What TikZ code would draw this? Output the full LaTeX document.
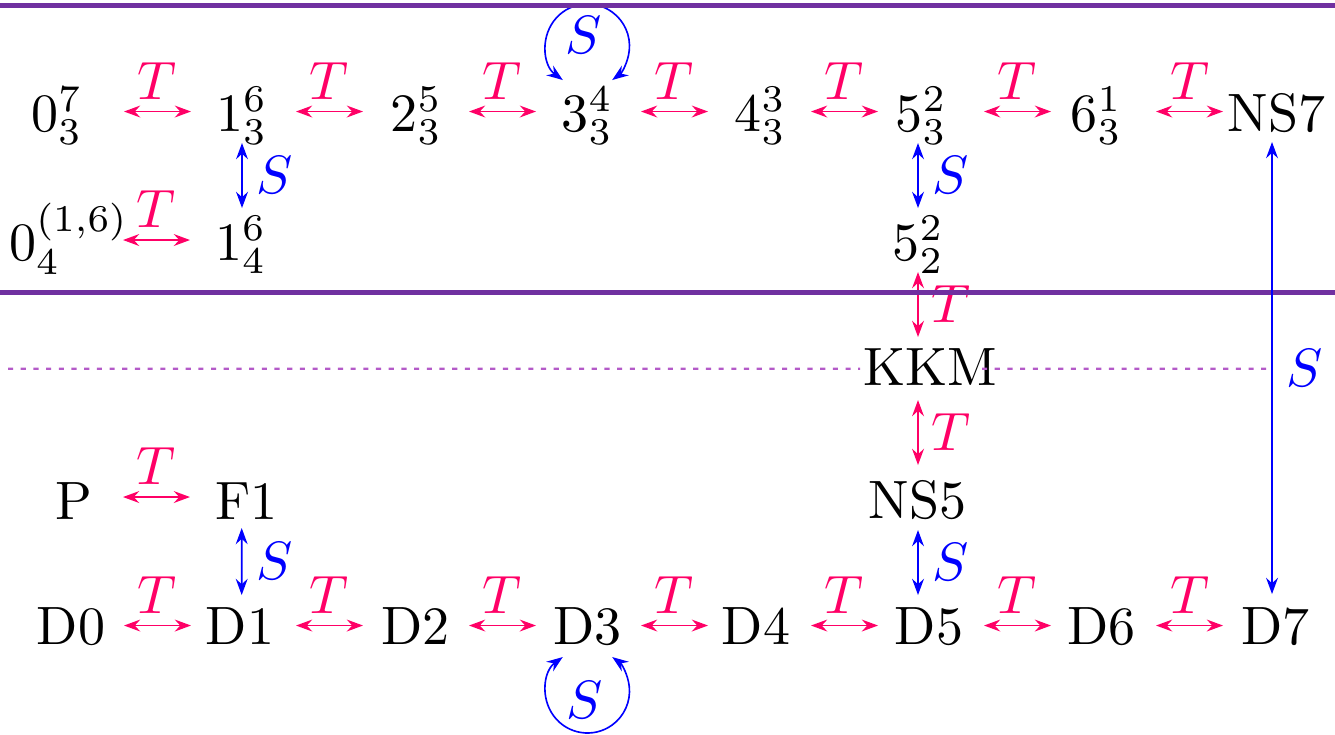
\documentclass[tikz,border=0pt]{standalone}
\usetikzlibrary{arrows.meta}
\definecolor{tcol}{RGB}{255,0,102}
\definecolor{scol}{RGB}{0,0,255}
\definecolor{bandcol}{RGB}{112,48,160}
\definecolor{dashcol}{RGB}{180,90,200}
\begin{document}
\begin{tikzpicture}[x=0.18519pt, y=-0.18519pt,
  lab/.style={anchor=base, inner sep=0pt, text=black},
  tarr/.style={tcol, line width=0.3pt, <->, >={Stealth[length=3pt,width=2.2pt,inset=1pt]}},
  sarr/.style={scol, line width=0.3pt, <->, >={Stealth[length=3pt,width=2.2pt,inset=1pt]}},
  tl/.style={midway, above, text=tcol, inner sep=2.1pt},
  tr/.style={midway, right, text=tcol, inner sep=2.3pt},
  sr/.style={midway, right, text=scol, inner sep=2.6pt},
  sloop/.style={text=scol, inner sep=0pt},
  band/.style={bandcol, line width=0.95pt},
  sep/.style={dashcol, line width=0.4pt, dash pattern=on 0.95pt off 1.4pt}
]
\useasboundingbox (0,0) rectangle (1335,734);

% top row
\node[lab] (n03) at (57,131) {$0_3^7$};
\node[lab] (n13) at (242,131) {$1_3^6$};
\node[lab] (n23) at (416.5,131) {$2_3^5$};
\node[lab] (n33) at (587.5,131) {$3_3^4$};
\node[lab] (n43) at (760.5,131) {$4_3^3$};
\node[lab] (n53) at (921.5,131) {$5_3^2$};
\node[lab] (n63) at (1096.5,131) {$6_3^1$};
\node[lab] (ns7) at (1276.5,131) {NS7};
% second row
\node[lab] (n04) at (69,260) {$0_4^{(1,6)}$};
\node[lab] (n14) at (241,260) {$1_4^6$};
\node[lab] (n52) at (918.5,260) {$5_2^2$};
% middle
\node[lab] (kkm) at (930,385) {KKM};
\node[lab] (p) at (74,519) {P};
\node[lab] (f1) at (246.5,519) {F1};
\node[lab] (ns5) at (917.5,518) {NS5};
% D row
\node[lab] (d0) at (71,644) {D0};
\node[lab] (d1) at (240,644) {D1};
\node[lab] (d2) at (415.5,644) {D2};
\node[lab] (d3) at (587.5,644) {D3};
\node[lab] (d4) at (756,644) {D4};
\node[lab] (d5) at (929,644) {D5};
\node[lab] (d6) at (1101.5,644) {D6};
\node[lab] (d7) at (1275.5,644) {D7};

% dashed separator
\draw[sep] (8,368.7) -- ([shift={(-70,-16.3)}]kkm.base);
\draw[sep] ([shift={(52,-16.3)}]kkm.base) -- (1266,368.7);

% horizontal T arrows, top row
\draw[tarr] ([shift={(67,-19.5)}]n03.base) -- ([shift={(-51,-19.5)}]n13.base) node[tl] {$T$};
\draw[tarr] ([shift={(54,-19.5)}]n13.base) -- ([shift={(-53.5,-19.5)}]n23.base) node[tl] {$T$};
\draw[tarr] ([shift={(52.5,-19.5)}]n23.base) -- ([shift={(-51.5,-19.5)}]n33.base) node[tl] {$T$};
\draw[tarr] ([shift={(53.5,-19.5)}]n33.base) -- ([shift={(-52.5,-19.5)}]n43.base) node[tl] {$T$};
\draw[tarr] ([shift={(50.5,-19.5)}]n43.base) -- ([shift={(-43.5,-19.5)}]n53.base) node[tl] {$T$};
\draw[tarr] ([shift={(62.5,-19.5)}]n53.base) -- ([shift={(-45.5,-19.5)}]n63.base) node[tl] {$T$};
\draw[tarr] ([shift={(59.5,-19.5)}]n63.base) -- ([shift={(-53.5,-19.5)}]ns7.base) node[tl] {$T$};
% second row and P-F1
\draw[tarr] ([shift={(54,-20)}]n04.base) -- ([shift={(-51,-20)}]n14.base) node[tl] {$T$};
\draw[tarr] ([shift={(49,-22)}]p.base) -- ([shift={(-56.5,-22)}]f1.base) node[tl] {$T$};
% D row
\draw[tarr] ([shift={(53,-18.5)}]d0.base) -- ([shift={(-49,-18.5)}]d1.base) node[tl] {$T$};
\draw[tarr] ([shift={(56,-18.5)}]d1.base) -- ([shift={(-52.5,-18.5)}]d2.base) node[tl] {$T$};
\draw[tarr] ([shift={(53.5,-18.5)}]d2.base) -- ([shift={(-51.5,-18.5)}]d3.base) node[tl] {$T$};
\draw[tarr] ([shift={(53.5,-18.5)}]d3.base) -- ([shift={(-48,-18.5)}]d4.base) node[tl] {$T$};
\draw[tarr] ([shift={(55,-18.5)}]d4.base) -- ([shift={(-51,-18.5)}]d5.base) node[tl] {$T$};
\draw[tarr] ([shift={(55,-18.5)}]d5.base) -- ([shift={(-50.5,-18.5)}]d6.base) node[tl] {$T$};
\draw[tarr] ([shift={(54.5,-18.5)}]d6.base) -- ([shift={(-52.5,-18.5)}]d7.base) node[tl] {$T$};

% vertical arrows
\draw[sarr] ([shift={(0,12)}]n13.base) -- ([shift={(1,-52)}]n14.base) node[sr] {$S$};
\draw[sarr] ([shift={(-3.5,12)}]n53.base) -- ([shift={(-0.5,-52)}]n52.base) node[sr] {$S$};
\draw[tarr] ([shift={(-0.5,12)}]n52.base) -- ([shift={(-12,-48)}]kkm.base) node[tr] {$T$};
\draw[tarr] ([shift={(-12,15)}]kkm.base) -- ([shift={(0.5,-53)}]ns5.base) node[tr] {$T$};
\draw[sarr] ([shift={(0.5,12)}]ns5.base) -- ([shift={(-11,-49)}]d5.base) node[sr] {$S$};
\draw[sarr] ([shift={(-4.8,9)}]f1.base) -- ([shift={(1.7,-49)}]d1.base) node[sr] {$S$};

% loops
\draw[sarr] ([shift={(-24.7,-51)}]n33.base) arc[start angle=126, end angle=414, radius=42];
\node[sloop] (slt) at ([shift={(-4,-96)}]n33.base) {$S$};
\draw[sarr] ([shift={(-24.7,13)}]d3.base) arc[start angle=234, end angle=-54, radius=42];
\node[sloop] (slb) at ([shift={(-3,56)}]d3.base) {$S$};

% purple bands
\draw[band] (0,5.5) -- (1335,5.5);
\draw[band] (0,292.5) -- (1335,292.5);

% long S arrow
\draw[sarr] ([shift={(-4.5,11)}]ns7.base) -- ([shift={(-3.5,-50)}]d7.base) node[sr] {$S$};
\end{tikzpicture}
\end{document}
